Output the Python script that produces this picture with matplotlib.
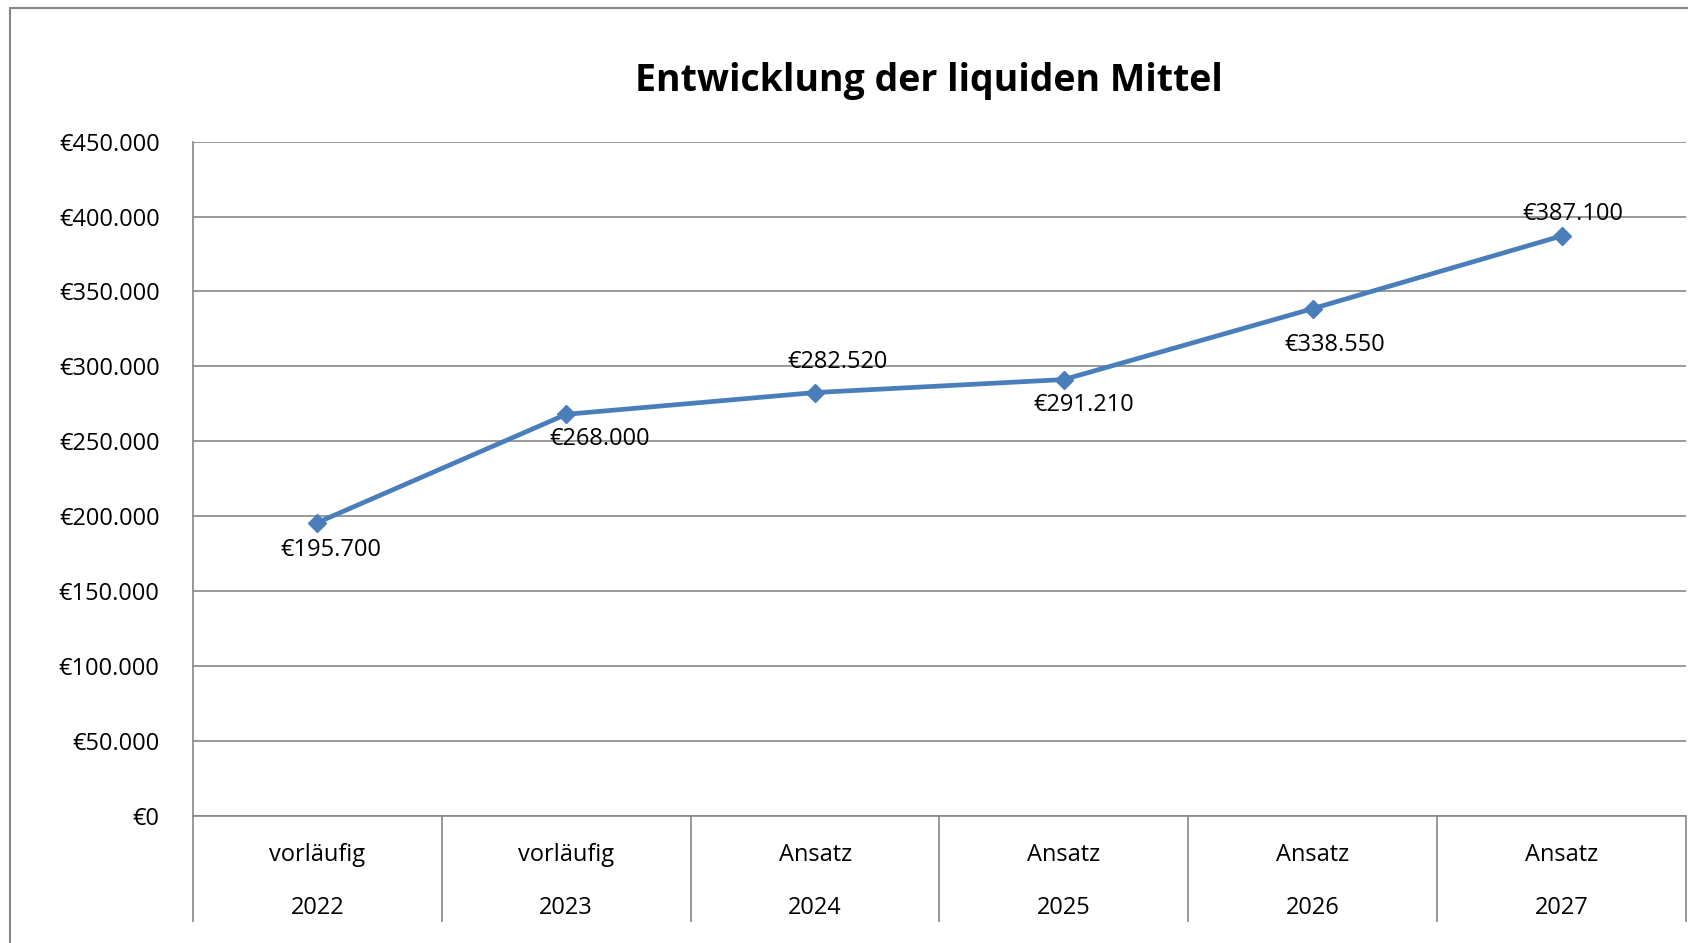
import matplotlib
matplotlib.use("Agg")
import matplotlib.pyplot as plt
from matplotlib.patches import Rectangle
from matplotlib.ticker import FuncFormatter, MultipleLocator
import matplotlib.transforms as mtransforms

plt.rcParams['font.family'] = ['Open Sans', 'DejaVu Sans']

# data
status = ['vorläufig', 'vorläufig', 'Ansatz', 'Ansatz', 'Ansatz', 'Ansatz']
years = ['2022', '2023', '2024', '2025', '2026', '2027']
liquide_mittel = [195700, 268000, 282520, 291210, 338550, 387100]

# label placement per point (offset in points)
label_offsets = [(10, -20), (24, -18), (16, 22), (14, -18), (16, -26), (8, 16)]

blue = '#4a7ebb'
grey = '#878787'
W, H = 1688, 943
fs = 17

fig = plt.figure(figsize=(W / 100, H / 100), dpi=100)

# outer chart border (cut off at right/bottom)
fig.patches.append(Rectangle((10 / W, -0.1), 1.2, 1 - 8 / H + 0.1, transform=fig.transFigure,
                             fill=False, edgecolor=grey, linewidth=1.5))

left, right, top, bottom = 193, 1686, 141.7, 815.7
ax = fig.add_axes([left / W, 1 - bottom / H, (right - left) / W, (bottom - top) / H])

x = list(range(len(years)))
ax.plot(x, liquide_mittel, color=blue, linewidth=3.4, marker='D', markersize=9, zorder=3)

for xi, v, (dx, dy) in zip(x, liquide_mittel, label_offsets):
    txt = '€{:,}'.format(v).replace(',', '.')
    ax.annotate(txt, (xi, v), xytext=(dx, dy), textcoords='offset points',
                ha='center', va='center', fontsize=fs, color='black', zorder=4)

ax.set_xlim(-0.5, len(years) - 0.5)
ax.set_ylim(0, 450000)
ax.yaxis.set_major_locator(MultipleLocator(50000))
ax.yaxis.set_major_formatter(FuncFormatter(lambda v, p: '€{:,}'.format(int(v)).replace(',', '.')))
ax.grid(axis='y', color=grey, linewidth=1.2)
ax.set_axisbelow(True)
ax.tick_params(axis='y', length=0, pad=24, labelsize=fs)

# category separators below the axis
ax.set_xticks(x)
ax.set_xticklabels([])
ax.tick_params(axis='x', which='major', length=0)
ax.set_xticks([i - 0.5 for i in range(len(years) + 1)], minor=True)
ax.tick_params(axis='x', which='minor', length=76, width=1.2, color=grey, direction='out')

for s in ['top', 'right']:
    ax.spines[s].set_visible(False)
for s in ['left', 'bottom']:
    ax.spines[s].set_color(grey)
    ax.spines[s].set_linewidth(1.2)

trans = mtransforms.blended_transform_factory(ax.transData, fig.transFigure)
for xi, st, yr in zip(x, status, years):
    ax.text(xi, 1 - 855 / H, st, transform=trans, ha='center', va='center', fontsize=fs)
    ax.text(xi, 1 - 908 / H, yr, transform=trans, ha='center', va='center', fontsize=fs)

fig.text(929 / W, 1 - 81 / H, 'Entwicklung der liquiden Mittel', ha='center', va='center',
         fontsize=27, fontweight='bold')

fig.savefig('out.png', dpi=100)
